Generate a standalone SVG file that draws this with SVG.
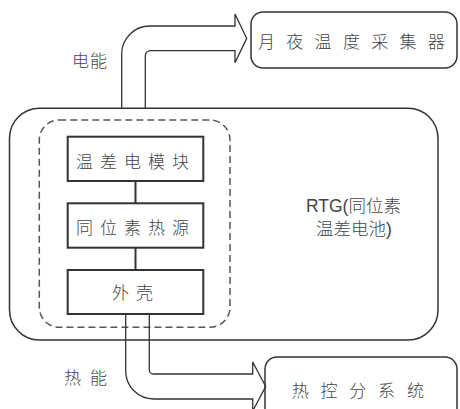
<svg xmlns="http://www.w3.org/2000/svg" width="460" height="409" viewBox="0 0 460 409">
<style>
.box{fill:none;stroke:#333;stroke-width:1.5}
.inner{fill:none;stroke:#333;stroke-width:2}
.dash{fill:none;stroke:#555;stroke-width:1.5;stroke-dasharray:7 4}
.arrow{fill:none;stroke:#333;stroke-width:1.3}
.link{stroke:#333;stroke-width:2}
text{font-family:"Noto Sans CJK SC","Liberation Sans",sans-serif;font-size:17px;fill:#444;font-weight:300}
.rtg{font-family:"Liberation Sans","Noto Sans CJK SC",sans-serif;font-size:17.5px}
</style>
<rect width="460" height="409" fill="#fff"/>
<g id="rtg">
<rect class="box" x="9.5" y="108.3" width="428.5" height="231.7" rx="30"/>
<text class="rtg" x="306" y="212">RTG(同位素</text>
<text class="rtg" x="316" y="235">温差电池)</text>
</g>
<g id="core">
<rect class="dash" x="39.3" y="120" width="190.7" height="207.3" rx="20"/>
</g>
<g id="module">
<rect class="inner" x="67.7" y="136.7" width="135.6" height="44.3"/>
<text x="76" y="167.5" style="letter-spacing:7px">温差电模块</text>
</g>
<g id="source">
<rect class="inner" x="67.7" y="203.3" width="135.6" height="44.4"/>
<text x="76" y="234" style="letter-spacing:7px">同位素热源</text>
</g>
<g id="shell">
<rect class="inner" x="67.7" y="270" width="135.6" height="44"/>
<text x="112" y="299" style="letter-spacing:7px">外壳</text>
</g>
<g id="collector">
<rect class="box" x="251" y="12" width="206" height="56" rx="12"/>
<text x="258" y="48" style="letter-spacing:11.3px">月夜温度采集器</text>
</g>
<g id="thermal">
<rect class="box" x="265" y="357" width="192" height="70" rx="12"/>
<text x="291.7" y="396.5" style="letter-spacing:11.8px">热控分系统</text>
</g>
<g id="connectors">
<line class="link" x1="135.5" y1="181" x2="135.5" y2="203.3"/>
<line class="link" x1="135.5" y1="247.7" x2="135.5" y2="270"/>
<path class="arrow" d="M121.7,108.3 V54 A28,28 0 0 1 149.7,26 H235 V14 L246.7,38.4 L235,62.7 V50.7 H150.3 A5,5 0 0 0 145.3,55.7 V108.3"/>
<path class="arrow" d="M125.7,315 V371 A28,28 0 0 0 153.7,399 H252.7 V411 L265.7,386.5 L252.7,362 V374 H153.3 A4,4 0 0 1 149.3,370 V315"/>
<text x="72" y="66.5" style="letter-spacing:1px">电能</text>
<text x="64" y="383.5" style="letter-spacing:9px">热能</text>
</g>
</svg>
